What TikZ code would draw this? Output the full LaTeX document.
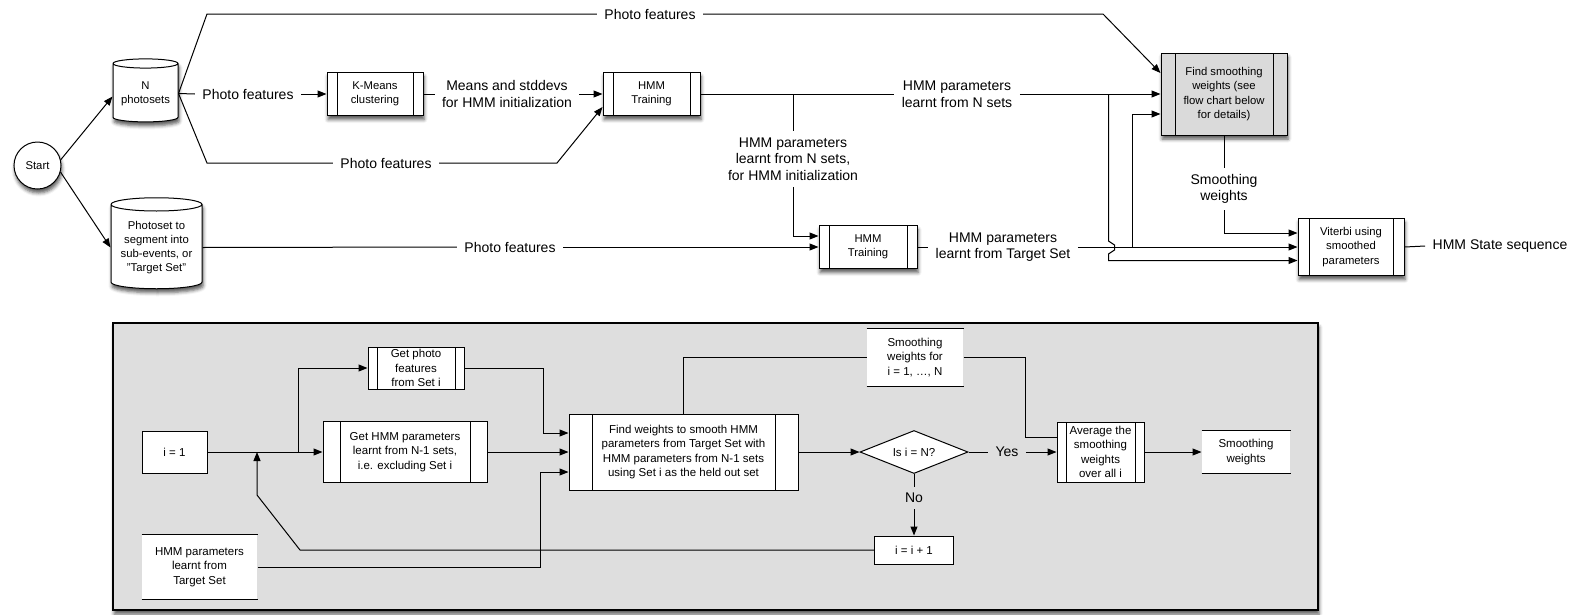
\documentclass[tikz,border=0pt]{standalone}
\usepackage{fontspec}
\setmainfont{Liberation Sans}
\usetikzlibrary{arrows.meta,shapes.geometric,shadows.blur}
\definecolor{panelgray}{RGB}{222,222,222}
\definecolor{boxgray}{RGB}{218,218,218}

\begin{document}
\begin{tikzpicture}[x=1pt, y=-1pt, line width=1pt,
    >={Triangle[length=9pt,width=7pt]},
    box/.style={draw, fill=white, line width=1pt, inner sep=1pt, align=center, font=\fontsize{11.3}{14.2}\selectfont},
    proc/.style={box, path picture={\draw[line width=1pt]
        ([xshift=#1]path picture bounding box.north west) -- ([xshift=#1]path picture bounding box.south west)
        ([xshift=-#1]path picture bounding box.north east) -- ([xshift=-#1]path picture bounding box.south east);}},
    proc/.default=10pt,
    cyl/.style={box, cylinder, shape border rotate=90, aspect=0.18},
    dia/.style={box, diamond, aspect=2.5, inner sep=0pt},
    data/.style={fill=white, inner sep=1pt, align=center, font=\fontsize{11.5}{14.3}\selectfont,
        append after command={(\tikzlastnode.north west) edge[line width=1.3pt] (\tikzlastnode.north east)
        (\tikzlastnode.south west) edge[line width=1.3pt] (\tikzlastnode.south east)}},
    bfont/.style={font=\fontsize{11.5}{14.3}\selectfont},
    lbl/.style={font=\fontsize{14}{16.5}\selectfont, align=center, inner xsep=7pt, inner ysep=6pt},
    shad/.style={blur shadow={shadow xshift=1pt, shadow yshift=-4pt, shadow blur radius=3.5pt, shadow opacity=65}},
    panel/.style={draw, fill=panelgray, line width=1.1pt, shad}]

    \useasboundingbox (0,0) rectangle (1579,614);

    % Oppe: hovedflyt
    \node[box, circle, shad, minimum size=47pt] (start) at (37.5,165.5) {Start};
    \node[cyl, shad, minimum width=65pt, minimum height=63pt] (nsets) at (145.5,93.5) {N\\photosets};
    \node[cyl, shad, minimum width=91pt, minimum height=91pt] (target) at (156.5,247.5)
        {Photoset to\\segment into\\sub-events, or\\"Target Set"};
    \node[proc, shad, minimum width=96pt, minimum height=43pt] (kmeans) at (375,94) {K-Means\\clustering};
    \node[proc, shad, minimum width=97pt, minimum height=43pt] (hmmA) at (651.5,94) {HMM\\Training};
    \node[proc, shad, minimum width=98pt, minimum height=43pt] (hmmB) at (868,247) {HMM\\Training};
    \node[proc=14pt, shad, fill=boxgray, minimum width=126pt, minimum height=82pt] (findsm) at (1224,94)
        {Find smoothing\\weights (see\\flow chart below\\for details)};
    \node[proc=11pt, shad, minimum width=106pt, minimum height=57pt] (viterbi) at (1351,247)
        {Viterbi using\\smoothed\\parameters};

    % Etiketter
    \node[lbl] (lTop) at (650,14) {Photo features};
    \node[lbl] (lMid) at (248,94) {Photo features};
    \node[lbl] (lBot) at (386,163) {Photo features};
    \node[lbl] (lTgt) at (510,247) {Photo features};
    \node[lbl] (lMeans) at (507,94) {Means and stddevs\\for HMM initialization};
    \node[lbl] (lInit) at (793,159) {HMM parameters\\learnt from N sets,\\for HMM initialization};
    \node[lbl] (lN) at (957,94) {HMM parameters\\learnt from N sets};
    \node[lbl] (lTS) at (1003,247) {HMM parameters\\learnt from Target Set};
    \node[lbl] (lSW) at (1224,189) {Smoothing\\weights};
    \node[lbl] (lOut) at (1500,246) {HMM State sequence};

    \coordinate (c1) at (207,14);
    \coordinate (c2) at (1103,14);
    \coordinate (c3) at (207,163);
    \coordinate (c4) at (557,163);
    \coordinate (j1) at (793,94);
    \coordinate (j2) at (1108.5,94);
    \coordinate (j3) at (1132,247);

    % Piler oppe
    \draw[->] (start.14) -- ([yshift=-3pt]nsets.west);
    \draw[->] (start.-16) -- (target.west);
    \draw (nsets.east) -- (c1) -- (lTop.west);
    \draw[->] (lTop.east) -- (c2) -- ([yshift=21pt]findsm.west);
    \draw (nsets.east) -- (lMid.west);
    \draw[->] (lMid.east) -- (kmeans.west);
    \draw (nsets.east) -- (c3) -- (lBot.west);
    \draw[->] (lBot.east) -- (c4) -- ([yshift=-13pt]hmmA.west);
    \draw (kmeans.east) -- (lMeans.west);
    \draw[->] (lMeans.east) -- (hmmA.west);
    \draw (hmmA.east) -- (lN.west);
    \draw[->] (lN.east) -- (findsm.west);
    \draw (j1) -- (lInit.north);
    \draw[->] (lInit.south) |- ([yshift=11pt]hmmB.west);
    \draw (target.east) -- (lTgt.west);
    \draw[->] (lTgt.east) -- (hmmB.west);
    \draw (hmmB.east) -- (lTS.west);
    \draw[->] (lTS.east) -- (viterbi.west);
    \draw[->] (j3) |- ([yshift=-20pt]findsm.west);
    \draw[->] (j2) -- ++(0,147) -- ++(6,4) -- ++(0,5) -- ++(-6,4) |- ([yshift=-13.5pt]viterbi.west);
    \draw (findsm.south) -- (lSW.north);
    \draw[->] (lSW.south) |- ([yshift=14pt]viterbi.west);
    \draw (viterbi.east) -- (lOut.west);

    % Nede: detaljert flytskjema
    \node[panel, minimum width=1205pt, minimum height=287pt] (panel) at (715.5,466.5) {};
    \node[box, bfont, minimum width=65pt, minimum height=42pt] (i1) at (174.5,452) {i = 1};
    \node[proc=9pt, bfont, minimum width=96pt, minimum height=42pt] (getph) at (416,368)
        {Get photo\\features\\from Set i};
    \node[proc=17pt, bfont, minimum width=164pt, minimum height=61pt] (gethmm) at (405,452)
        {Get HMM parameters\\learnt from N-1 sets,\\i.e. excluding Set i};
    \node[proc=23pt, bfont, minimum width=229pt, minimum height=76pt] (findw) at (683.5,452)
        {Find weights to smooth HMM\\parameters from Target Set with\\HMM parameters from N-1 sets\\using Set i as the held out set};
    \node[data, minimum width=115pt, minimum height=64pt] (tgt) at (199.5,567) {HMM parameters\\learnt from\\Target Set};
    \node[data, minimum width=96pt, minimum height=57pt] (swfor) at (915,357.5) {Smoothing\\weights for\\i = 1, …, N};
    \node[dia, bfont, minimum width=108pt, minimum height=43pt] (isN) at (914,452) {Is i = N?};
    \node[box, bfont, minimum width=79pt, minimum height=28pt] (inc) at (914,550) {i = i + 1};
    \node[proc=9pt, bfont, minimum width=87pt, minimum height=60pt] (avg) at (1100.5,452)
        {Average the\\smoothing\\weights\\over all i};
    \node[data, minimum width=88pt, minimum height=42pt] (swout) at (1246,452) {Smoothing\\weights};
    \node[lbl] (lYes) at (1007,452) {Yes};
    \node[lbl] (lNo) at (914,498) {No};

    \coordinate (j4) at (298,452);
    \coordinate (j5) at (257,452);
    \coordinate (fb1) at (300,550);
    \coordinate (fb2) at (257,495);

    % Piler nede
    \draw[->] (i1.east) -- (gethmm.west);
    \draw[->] (j4) |- (getph.west);
    \draw[->] (getph.east) -- ++(79,0) |- ([yshift=19pt]findw.west);
    \draw[->] (gethmm.east) -- (findw.west);
    \draw[->] (tgt.east) -- ++(283,0) |- ([yshift=-20pt]findw.west);
    \draw[->] (findw.east) -- (isN.west);
    \draw (isN.east) -- (lYes.west);
    \draw[->] (lYes.east) -- (avg.west);
    \draw (isN.south) -- (lNo.north);
    \draw[->] (lNo.south) -- (inc.north);
    \draw[->] (inc.west) -- (fb1) -- (fb2) -- (j5);
    \draw (findw.north) |- (swfor.west);
    \draw (swfor.east) -- ++(62,0) |- ([yshift=15pt]avg.west);
    \draw[->] (avg.east) -- (swout.west);
\end{tikzpicture}
\end{document}
